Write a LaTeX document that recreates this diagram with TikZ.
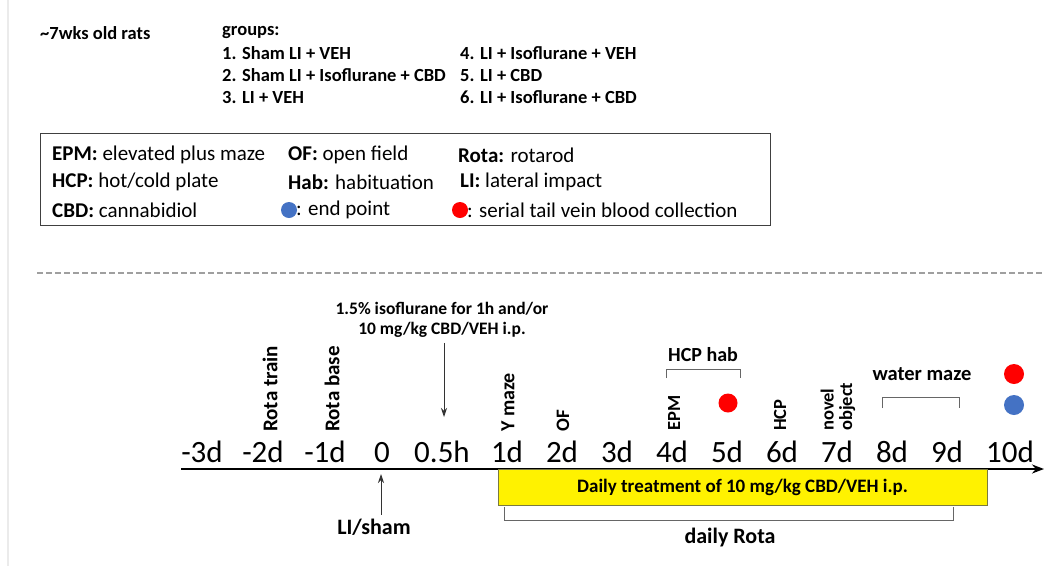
\documentclass[tikz,border=0pt]{standalone}
\usepackage{fontspec}
\setmainfont{Carlito}
\usetikzlibrary{arrows.meta}
\definecolor{dotblue}{HTML}{4472C4}
\definecolor{dotred}{HTML}{FF0000}
\definecolor{boxedge}{HTML}{7A7A40}
\newcommand{\fsz}[1]{\fontsize{#1}{#1}\selectfont}
\begin{document}
\begin{tikzpicture}[x=1pt,y=-1pt,
  grp/.style={inner sep=0, anchor=west, font=\bfseries\fsz{18.5}},
  leg/.style={inner sep=0, anchor=west, font=\fsz{21}},
  tick/.style={inner sep=0, anchor=base, font=\fsz{31}},
  vlab/.style={inner sep=0, anchor=west, rotate=90, align=left, font=\bfseries\fontsize{#1}{#1}\selectfont},
  blab/.style={inner sep=0, anchor=center, align=center, font=\bfseries\fontsize{#1}{20}\selectfont},
  dot/.style={circle, inner sep=0, minimum size=#1},
  brk/.style={draw=gray!80!black, line width=1pt},
  thinarrow/.style={draw=black!80, line width=0.9pt, -{Stealth[length=9pt,width=6pt]}}
]
\useasboundingbox (0,0) rectangle (1045,566);
\fill[white] (0,0) rectangle (1045,566);
% faint left rule
\draw[black!8, line width=1.5pt] (8,0) -- (8,566);

% header
\node[grp] (rats) at (40,33) {\textasciitilde7wks old rats};
\node[grp] (groups) at (222,32) {groups:};
\node[grp] (g1) at (222,53) {1. Sham LI + VEH};
\node[grp] (g2) at (222,75) {2. Sham LI + Isoflurane + CBD};
\node[grp] (g3) at (222,97) {3. LI + VEH};
\node[grp] (g4) at (460,53) {4. LI + Isoflurane + VEH};
\node[grp] (g5) at (460,75) {5. LI + CBD};
\node[grp] (g6) at (460,97) {6. LI + Isoflurane + CBD};

% legend box
\draw[black!75, line width=1pt] (40,133) rectangle (770,225);
\node[leg] (l1) at (52,155) {\textbf{EPM:} elevated plus maze};
\node[leg] (l2) at (52,182) {\textbf{HCP:} hot/cold plate};
\node[leg] (l3) at (52,210) {\textbf{CBD:} cannabidiol};
\node[leg] (l4) at (288,155) {\textbf{OF:} open field};
\node[leg] (l5) at (288,182) {\textbf{Hab:} habituation};
\node[dot=16pt, fill=dotblue] (lb) at (289,210) {};
\node[leg] (l6) at (296,210) {: end point};
\node[leg] (l7) at (458,155) {\textbf{Rota:} rotarod};
\node[leg] (l8) at (460,182) {\textbf{LI:} lateral impact};
\node[dot=16pt, fill=dotred] (lr) at (460,210) {};
\node[leg] (l9) at (467,210) {: serial tail vein blood collection};

% dashed separator
\draw[gray!75, line width=2pt, dash pattern=on 6pt off 3pt] (37,273) -- (1045,273);

% timeline axis
\coordinate (axL) at (181,469);
\coordinate (axR) at (1044,469);
\draw[line width=2.5pt, -{Stealth[length=12pt,width=9pt]}] (axL) -- (axR);

% yellow treatment box
\node[draw=boxedge, line width=1pt, fill=yellow, minimum width=489pt, minimum height=36pt, inner sep=0,
      font=\bfseries\fsz{19}] (treat) at (742.5,487.5) {Daily treatment of 10 mg/kg CBD/VEH i.p.};

% tick labels
\node[tick] (tm3) at (202,462) {-3d};
\node[tick] (tm2) at (263,462) {-2d};
\node[tick] (tm1) at (325,462) {-1d};
\node[tick] (t0) at (382,462) {0};
\node[tick] (th) at (442,462) {0.5h};
\node[tick] (t1) at (507,462) {1d};
\node[tick] (t2) at (562,462) {2d};
\node[tick] (t3) at (617,462) {3d};
\node[tick] (t4) at (672,462) {4d};
\node[tick] (t5) at (727,462) {5d};
\node[tick] (t6) at (782,462) {6d};
\node[tick] (t7) at (837,462) {7d};
\node[tick] (t8) at (892,462) {8d};
\node[tick] (t9) at (947,462) {9d};
\node[tick] (t10) at (1010,462) {10d};

% rotated event labels
\node[vlab=21] (rtrain) at (270,432) {Rota train};
\node[vlab=21] (rbase) at (332,432) {Rota base};
\node[vlab=20] (ymaze) at (508,432) {Y maze};
\node[vlab=19] (of) at (563,432) {OF};
\node[vlab=18.5] (epm) at (674,431) {EPM};
\node[vlab=18.5] (hcp) at (780,431) {HCP};
\node[vlab=18.5] (novel) at (838,431) {novel\\object};

% isoflurane note and arrow
\node[blab=17.5] (iso) at (442,320) {1.5\% isoflurane for 1h and/or\\10 mg/kg CBD/VEH i.p.};
\coordinate (isoEnd) at (444,417);
\draw[thinarrow] (iso.south -| isoEnd) ++(0,5) -- (isoEnd);

% HCP hab
\node[blab=20] (hcphab) at (703,355) {HCP hab};
\draw[brk] (666,378) -- (666,369) -- (740,369) -- (740,378);
\node[dot=19pt, fill=dotred] (d5) at (728,403) {};

% water maze
\node[blab=20.5] (wm) at (922,374) {water maze};
\draw[brk] (882,408) -- (882,397) -- (959,397) -- (959,408);

% end dots
\node[dot=20pt, fill=dotred] (d10r) at (1014,374) {};
\node[dot=20pt, fill=dotblue] (d10b) at (1014,405) {};

% LI/sham
\node[blab=22] (lisham) at (374,527) {LI/sham};
\coordinate (liTip) at (381,474);
\draw[thinarrow] (lisham.north -| liTip) ++(0,-4) -- (liTip);

% daily Rota bracket
\draw[brk] (504,507) -- (504,520) -- (953,520) -- (953,507);
\node[blab=22] (drota) at (730,538) {daily Rota};
\end{tikzpicture}
\end{document}
